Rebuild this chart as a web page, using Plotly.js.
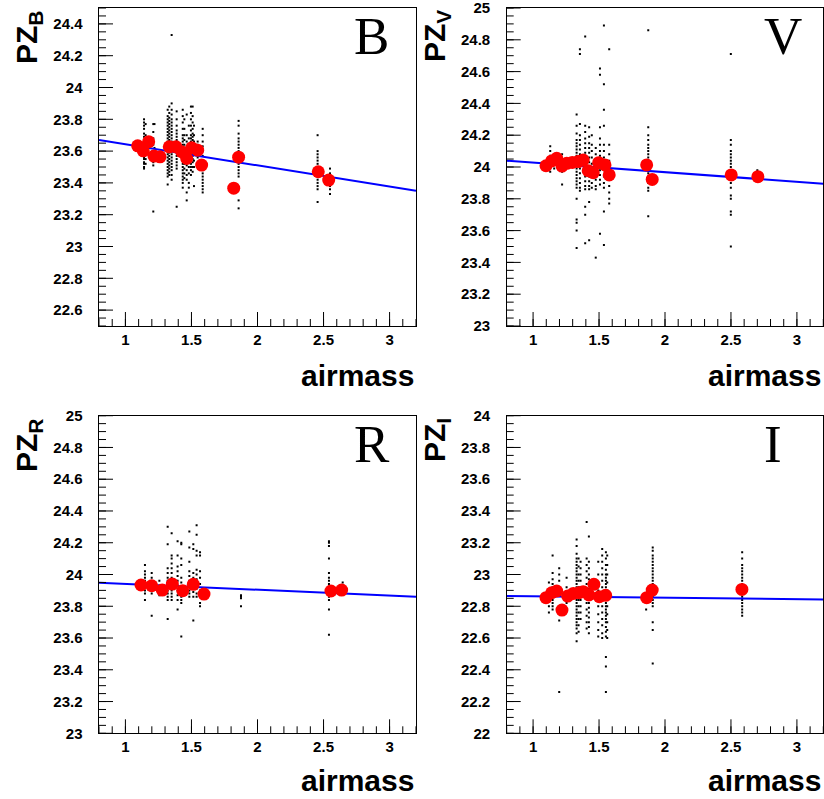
<!DOCTYPE html>
<html>
<head>
<meta charset="utf-8">
<script src="https://cdn.plot.ly/plotly-3.0.1.min.js"></script>
<style>html,body{margin:0;padding:0;background:#fff;}#chart{width:824px;height:799px;}</style>
</head>
<body>
<div id="chart"></div>
<script>
// ---------- Panel B ----------
const bRedX = [1.093,1.135,1.176,1.216,1.262,1.332,1.383,1.426,1.464,1.502,1.547,1.577,1.82,1.857,2.46,2.539];
const bRedY = [23.633,23.602,23.659,23.569,23.564,23.627,23.627,23.596,23.554,23.621,23.606,23.512,23.367,23.562,23.47,23.418];
const bFitX = [0.8, 3.2];
const bFitY = [23.67, 23.35];
const bColX = [1.141,1.153,1.211,1.22,1.32,1.332,1.35,1.388,1.434,1.446,1.464,1.48,1.496,1.509,1.519,1.547,1.585,1.857,2.455,2.549];
const bColY = [
  [23.80,23.78,23.76,23.74,23.71,23.69,23.66,23.64,23.62,23.60,23.58,23.56,23.55,23.53,23.52,23.50,23.49],
  [23.77,23.70,23.65,23.61,23.58,23.55,23.52],
  [23.77,23.72,23.68,23.64,23.60,23.57,23.55,23.53,23.51,23.22],
  [23.77,23.62,23.58,23.56],
  [23.86,23.82,23.80,23.78,23.76,23.74,23.72,23.70,23.68,23.66,23.64,23.62,23.60,23.58,23.56,23.54,23.52,23.50,23.48,23.46,23.44,23.39],
  [23.88,23.84,23.81,23.79,23.77,23.75,23.73,23.71,23.69,23.67,23.65,23.63,23.61,23.59,23.57,23.55,23.53,23.51,23.49,23.47,23.45],
  [24.33,23.90,23.86,23.83,23.80,23.78,23.76,23.74,23.72,23.70,23.68,23.66,23.64,23.62,23.60,23.58,23.56,23.54,23.52,23.50,23.48,23.45,23.42],
  [23.85,23.80,23.76,23.73,23.71,23.69,23.67,23.65,23.63,23.61,23.59,23.57,23.55,23.53,23.51,23.49,23.25],
  [23.86,23.82,23.78,23.74,23.70,23.68,23.66,23.64,23.62,23.60,23.58,23.56,23.54,23.52,23.50,23.48,23.46,23.44,23.42,23.40,23.37],
  [23.80,23.74,23.70,23.67,23.64,23.61,23.58,23.55,23.52,23.49,23.46,23.43],
  [23.83,23.70,23.66,23.63,23.60,23.57,23.54,23.51,23.48,23.45,23.42,23.34,23.29],
  [23.76,23.68,23.62,23.58,23.54,23.50,23.46,23.40,23.37],
  [23.88,23.84,23.80,23.76,23.73,23.70,23.68,23.66,23.64,23.62,23.60,23.58,23.56,23.54,23.52,23.50,23.48,23.45],
  [23.88,23.82,23.78,23.74,23.71,23.69,23.67,23.65,23.63,23.61,23.59,23.57,23.55,23.53,23.50,23.47],
  [23.76,23.70,23.66,23.62,23.58,23.54,23.50,23.38],
  [23.66,23.64,23.62,23.60,23.58,23.56],
  [23.74,23.70,23.66,23.63,23.60,23.57,23.54,23.51,23.48,23.46,23.44,23.42,23.40,23.38,23.36,23.34],
  [23.79,23.76,23.71,23.68,23.66,23.64,23.62,23.60,23.58,23.56,23.54,23.52,23.50,23.48,23.46,23.44,23.29,23.24],
  [23.70,23.60,23.58,23.56,23.54,23.52,23.50,23.48,23.46,23.44,23.42,23.40,23.38,23.36,23.28],
  [23.49,23.46,23.44,23.42,23.40,23.38,23.36,23.33]
];

// ---------- Panel V ----------
const vRedX = [1.098,1.141,1.179,1.219,1.255,1.297,1.342,1.38,1.418,1.456,1.497,1.545,1.577,1.861,1.903,2.502,2.704];
const vRedY = [24.008,24.038,24.055,24.006,24.023,24.029,24.034,24.044,23.977,23.964,24.027,24.013,23.95,24.013,23.922,23.95,23.939];
const vFitX = [0.8, 3.2];
const vFitY = [24.04, 23.895];
const vColX = [1.13,1.16,1.22,1.33,1.355,1.395,1.425,1.445,1.475,1.507,1.537,1.577,1.873,2.499,2.70];
const vColY = [
  [24.13,24.10,24.07,24.05,24.03,24.01,23.99,23.97],
  [24.08,24.05,24.02,23.99],
  [24.08,24.05,24.02,23.99,23.97,23.89],
  [24.33,24.26,24.21,24.17,24.15,24.13,24.11,24.09,24.07,24.05,24.03,24.01,23.99,23.97,23.95,23.93,23.91,23.89,23.87,23.80,23.67,23.65,23.60,23.49],
  [24.74,24.71,24.27,24.20,24.17,24.14,24.11,24.08,24.05,24.02,23.99,23.96,23.93,23.90,23.87,23.85],
  [24.82,24.26,24.22,24.18,24.15,24.12,24.09,24.06,24.03,24.00,23.97,23.94,23.91,23.88,23.86,23.75,23.70,23.52],
  [24.25,24.19,24.15,24.12,24.09,24.06,24.03,24.00,23.97,23.94,23.91,23.88,23.86,23.78,23.54],
  [24.20,24.14,24.10,24.06,24.02,23.98,23.94,23.90,23.87],
  [24.12,24.08,24.04,24.00,23.96,23.92,23.88,23.86,23.43],
  [24.62,24.58,24.25,24.18,24.14,24.10,24.07,24.04,24.01,23.98,23.95,23.92,23.89,23.58],
  [24.89,24.52,24.36,24.26,24.14,24.10,24.06,24.02,23.98,23.94,23.90,23.87,23.72,23.51],
  [24.74,24.14,24.08,24.04,24.00,23.96,23.92,23.88,23.84,23.80,23.77],
  [24.86,24.25,24.20,24.17,24.14,24.12,24.10,24.08,24.06,24.04,24.02,24.00,23.98,23.96,23.94,23.90,23.87,23.85,23.69],
  [24.71,24.17,24.14,24.10,24.08,24.06,24.04,24.02,24.00,23.98,23.96,23.94,23.92,23.90,23.87,23.82,23.80,23.72,23.70,23.50],
  [23.98,23.96]
];

// ---------- Panel R ----------
const rRedX = [1.118,1.199,1.279,1.355,1.434,1.514,1.595,2.556,2.637];
const rRedY = [23.934,23.929,23.902,23.94,23.898,23.938,23.877,23.896,23.902];
const rFitX = [0.8, 3.2];
const rFitY = [23.948, 23.86];
const rColX = [1.148,1.199,1.257,1.32,1.35,1.395,1.423,1.484,1.514,1.539,1.565,1.875,2.541,2.645];
const rColY = [
  [24.06,24.02,24.00,23.98,23.96,23.94,23.92,23.90,23.88,23.84],
  [24.01,23.98,23.95,23.92,23.90,23.88,23.74],
  [23.96,23.93,23.91,23.89,23.87],
  [24.30,24.19,24.04,24.01,23.98,23.96,23.94,23.92,23.90,23.88,23.86,23.84,23.72],
  [24.26,24.12,24.10,24.07,24.04,24.01,23.98,23.96,23.94,23.92,23.90,23.88,23.86,23.84],
  [24.21,24.12,24.05,24.02,23.99,23.96,23.93,23.90,23.87,23.84,23.78],
  [24.20,24.19,24.10,24.06,23.98,23.95,23.92,23.89,23.86,23.84,23.82,23.61],
  [24.27,24.17,24.08,24.02,23.99,23.96,23.93,23.90,23.88,23.86],
  [24.19,24.16,24.01,23.98,23.95,23.92,23.89,23.86,23.71],
  [24.31,24.25,24.15,24.12,24.03,24.00,23.97,23.94,23.91,23.88,23.86],
  [24.14,24.12,24.02,23.98,23.94,23.90,23.86,23.82,23.80],
  [23.87,23.86,23.85,23.80],
  [24.21,24.20,24.18,24.10,24.01,23.98,23.96,23.94,23.92,23.90,23.88,23.86,23.84,23.78,23.62],
  [23.95]
];

// ---------- Panel I ----------
const iRedX = [1.098,1.141,1.179,1.219,1.262,1.305,1.348,1.38,1.423,1.461,1.502,1.55,1.861,1.903,2.583];
const iRedY = [22.854,22.885,22.896,22.776,22.864,22.881,22.885,22.892,22.871,22.938,22.86,22.869,22.854,22.902,22.906];
const iFitX = [0.8, 3.2];
const iFitY = [22.865, 22.843];
const iColX = [1.12,1.148,1.198,1.254,1.33,1.345,1.36,1.406,1.423,1.494,1.524,1.552,1.562,1.857,1.907,2.585];
const iColY = [
  [22.95,22.80,22.76],
  [23.12,23.01,22.97,22.94,22.92,22.90,22.88,22.86,22.84,22.82,22.80,22.78],
  [23.04,23.00,22.96,22.90,22.80,22.71,22.26],
  [22.98,22.92,22.84,22.82],
  [23.22,23.18,23.13,23.10,23.08,23.06,23.04,23.02,23.00,22.98,22.96,22.94,22.92,22.90,22.88,22.86,22.84,22.82,22.80,22.78,22.76,22.74,22.72,22.70,22.68,22.66,22.63,22.58],
  [23.10,23.05,23.00,22.96,22.92,22.88,22.84,22.80,22.76,22.72,22.68,22.64],
  [23.08,23.04,23.00,22.96,22.92,22.88,22.84,22.80,22.76,22.72],
  [23.33,23.10,23.06,23.02,22.98,22.94,22.90,22.86,22.82,22.78,22.74,22.70,22.66],
  [23.24,23.08,23.04,23.00,22.97,22.94,22.91,22.88,22.85,22.82,22.79,22.76,22.73,22.70,22.67,22.63],
  [23.08,23.00,22.95,22.90,22.85,22.80,22.75,22.70,22.65,22.61],
  [23.16,23.12,23.08,23.04,23.00,22.96,22.92,22.88,22.84,22.80,22.76,22.72,22.68,22.63,22.60],
  [23.14,23.10,23.06,23.03,23.00,22.98,22.96,22.94,22.92,22.90,22.88,22.86,22.84,22.82,22.80,22.78,22.76,22.74,22.72,22.70,22.67,22.64,22.61,22.48,22.42,22.26],
  [23.12,23.06,23.00,22.95,22.90,22.85,22.80,22.75,22.70,22.65,22.60],
  [22.78],
  [23.17,23.15,23.12,23.10,23.08,23.06,23.04,23.02,23.00,22.98,22.96,22.94,22.92,22.90,22.88,22.86,22.84,22.82,22.80,22.70,22.65,22.44],
  [23.14,23.10,23.06,23.04,23.02,23.00,22.98,22.96,22.94,22.92,22.90,22.88,22.86,22.84,22.82,22.80,22.78,22.76,22.74]
];

const panelNames = ['B','V','R','I'];
const yRanges = [[22.5,24.5],[23,25],[23,25],[22,24]];
const yTickVals = [
  [22.6,22.8,23,23.2,23.4,23.6,23.8,24,24.2,24.4],
  [23,23.2,23.4,23.6,23.8,24,24.2,24.4,24.6,24.8,25],
  [23,23.2,23.4,23.6,23.8,24,24.2,24.4,24.6,24.8,25],
  [22,22.2,22.4,22.6,22.8,23,23.2,23.4,23.6,23.8,24]
];
const yTickText = [
  ['22.6','22.8','23','23.2','23.4','23.6','23.8','24','24.2','24.4'],
  ['23','23.2','23.4','23.6','23.8','24','24.2','24.4','24.6','24.8','25'],
  ['23','23.2','23.4','23.6','23.8','24','24.2','24.4','24.6','24.8','25'],
  ['22','22.2','22.4','22.6','22.8','23','23.2','23.4','23.6','23.8','24']
];
const yMinorStep = 0.05;
const xRange = [0.8, 3.2];
const xTickVals = [1, 1.5, 2, 2.5, 3];
const xTickText = ['1', '1.5', '2', '2.5', '3'];
const xMinorStep = 0.1;
const xTitle = 'airmass';

const panels = [
  {colX:bColX, colY:bColY, redX:bRedX, redY:bRedY, fitX:bFitX, fitY:bFitY},
  {colX:vColX, colY:vColY, redX:vRedX, redY:vRedY, fitX:vFitX, fitY:vFitY},
  {colX:rColX, colY:rColY, redX:rRedX, redY:rRedY, fitX:rFitX, fitY:rFitY},
  {colX:iColX, colY:iColY, redX:iRedX, redY:iRedY, fitX:iFitX, fitY:iFitY}
];

const W = 824, H = 799;
const xDom = [[99/W, 416/W],[506.7/W, 823.3/W]];
const yDom = [[1-326/H, 1-8/H],[1-733.3/H, 1-415.7/H]];
const MAJ = 14, MIN = 7;

const traces = [];
const layout = {
  width: W, height: H,
  margin: {l:0, r:0, t:0, b:0},
  paper_bgcolor: '#ffffff', plot_bgcolor: 'rgba(0,0,0,0)',
  showlegend: false,
  annotations: [],
  shapes: []
};
const tickFont = {family:'Liberation Sans, Arial, sans-serif', size:15, color:'#000', weight:'bold'};
const titleFont = {family:'Liberation Sans, Arial, sans-serif', size:30, color:'#000'};
const pad = s => s + '\u00a0\u00a0\u00a0';

function steps(r0, r1, step) {
  const out = [];
  for (let k = Math.ceil(r0 / step - 1e-9); k <= Math.floor(r1 / step + 1e-9); k++) out.push(+(k * step).toFixed(4));
  return out;
}

panels.forEach((p, i) => {
  const ax = i === 0 ? '' : String(i+1);
  const xa = 'x' + ax, ya = 'y' + ax;
  const col = i % 2, row = Math.floor(i / 2);
  const dx = [], dy = [];
  p.colX.forEach((cx, k) => { p.colY[k].forEach(v => { dx.push(cx); dy.push(v); }); });
  traces.push({x:dx, y:dy, xaxis:xa, yaxis:ya, type:'scatter', mode:'markers',
    marker:{size:2, color:'#000', symbol:'square'}, hoverinfo:'skip'});
  traces.push({x:p.fitX, y:p.fitY, xaxis:xa, yaxis:ya, type:'scatter', mode:'lines',
    line:{color:'#0000ff', width:2}});
  traces.push({x:p.redX, y:p.redY, xaxis:xa, yaxis:ya, type:'scatter', mode:'markers',
    marker:{size:13, color:'#ff0000'}, cliponaxis:false});

  layout['xaxis' + ax] = {
    domain: xDom[col], anchor: ya, range: xRange,
    tickmode: 'array', tickvals: xTickVals, ticktext: xTickText,
    ticks: '', showline: true, linecolor: '#000', linewidth: 1, mirror: true,
    showgrid: false, zeroline: false, tickfont: tickFont, ticklabeloverflow: 'allow'
  };
  layout['yaxis' + ax] = {
    domain: yDom[row], anchor: xa, range: yRanges[i],
    tickmode: 'array', tickvals: yTickVals[i], ticktext: yTickText[i].map(pad),
    ticks: '', showline: true, linecolor: '#000', linewidth: 1, mirror: true,
    showgrid: false, zeroline: false, tickfont: tickFont, ticklabeloverflow: 'allow'
  };

  // tick marks drawn inside the frame, positioned through the axes' own scales
  const pw = (xDom[col][1] - xDom[col][0]) * W;
  const ph = (yDom[row][1] - yDom[row][0]) * H;
  const tick = (xr, yr, x0, x1, y0, y1) => layout.shapes.push({type:'line', xref:xr, yref:yr,
    x0:x0, x1:x1, y0:y0, y1:y1, line:{color:'#000', width:1}, layer:'above'});
  steps(yRanges[i][0], yRanges[i][1], yMinorStep).forEach(v => tick(xa + ' domain', ya, 0, MIN / pw, v, v));
  yTickVals[i].forEach(v => tick(xa + ' domain', ya, 0, MAJ / pw, v, v));
  steps(xRange[0], xRange[1], xMinorStep).forEach(v => tick(xa, ya + ' domain', v, v, 0, MIN / ph));
  xTickVals.forEach(v => tick(xa, ya + ' domain', v, v, 0, MAJ / ph));

  layout.annotations.push({
    text: panelNames[i], xref: xa + ' domain', yref: ya + ' domain',
    x: col === 0 ? 0.861 : (i === 3 ? 0.84 : 0.872), y: 0.912, xanchor: 'center', yanchor: 'middle',
    showarrow: false, font: {family: 'Liberation Serif, Times New Roman, serif', size: 53, color: '#000'}
  });
  layout.annotations.push({
    text: '<b>' + xTitle + '</b>', xref: xa + ' domain', yref: 'paper',
    x: 1, y: row === 0 ? 1 - 375/H : 0, xanchor: 'right', yanchor: row === 0 ? 'middle' : 'bottom',
    showarrow: false, font: titleFont
  });
  const cx = col === 0 ? 28 : 436;
  const top = row === 0 ? 8 : 416;
  layout.annotations.push({
    text: '<b>PZ<sub>' + panelNames[i] + '</sub></b>', xref: 'paper', yref: 'paper',
    x: cx / W, y: 1 - top / H, xanchor: 'center', yanchor: 'top', textangle: -90,
    showarrow: false, font: titleFont
  });
});

Plotly.newPlot('chart', traces, layout, {staticPlot: true, displayModeBar: false});
</script>
</body>
</html>
